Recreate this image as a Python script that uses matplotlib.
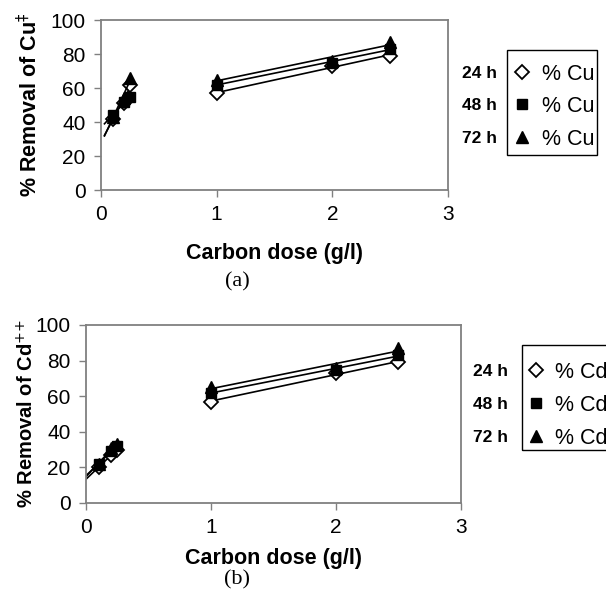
import numpy as np
import matplotlib.pyplot as plt
from matplotlib.patches import Rectangle
from matplotlib.lines import Line2D

# carbon dose (g/l)
dose = [0.1, 0.2, 0.25, 1.0, 2.0, 2.5]
hours = ["24 h", "48 h", "72 h"]

# % removal of Cu
cu_24 = [42, 51, 62, 57, 73, 79]
cu_48 = [44, 52, 55, 62, 75, 83]
cu_72 = [43, 54, 66, 65, 76, 87]

# % removal of Cd
cd_24 = [20, 27, 30, 57, 73, 79]
cd_48 = [22, 29, 32, 62, 75, 83]
cd_72 = [22, 31, 33, 65, 76, 87]

plt.rcParams['font.family'] = ['Liberation Sans', 'DejaVu Sans']

W, H = 606, 603
fig = plt.figure(figsize=(W / 100, H / 100), dpi=100)

styles = [
    dict(marker="D", mfc="white", mec="black", ms=7.5, mew=1.3),
    dict(marker="s", mfc="black", mec="black", ms=7.5),
    dict(marker="^", mfc="black", mec="black", ms=8.5),
]


def fx(px):
    return px / W


def fy(py):
    return 1 - py / H


def legend_box(x0, y0, x1, y1, rows, mark_x, text_x, hour_x, metal):
    # Excel-style legend drawn in figure pixels
    fig.patches.append(Rectangle((fx(x0), fy(y1)), fx(x1) - fx(x0), fy(y0) - fy(y1),
                                 transform=fig.transFigure, fill=False,
                                 edgecolor="black", lw=1.0))
    for r, st, lab in zip(rows, styles, hours):
        fig.lines.append(Line2D([fx(mark_x)], [fy(r)], transform=fig.transFigure,
                                ls="none", **st))
        fig.text(fx(text_x), fy(r), "% " + metal, ha="left", va="center_baseline",
                 fontsize=15.5)
        fig.text(fx(hour_x), fy(r), lab, ha="right", va="center_baseline",
                 fontsize=12.5, fontweight="bold")


def panel(rect, series, metal, sup, low_start, ylab_x, xlab_y, ylab_size):
    ax = fig.add_axes(rect)
    x = np.array(dose)
    for ys, st in zip(series, styles):
        y = np.array(ys)
        # trend lines, fitted separately for low and high doses
        lo = x < 0.5
        k, b = np.polyfit(x[lo], y[lo], 1)
        xl = np.array([low_start, 0.25])
        ax.plot(xl, k * xl + b, color="black", lw=1.2)
        hi = ~lo
        k, b = np.polyfit(x[hi], y[hi], 1)
        xh = np.array([1.0, 2.5])
        ax.plot(xh, k * xh + b, color="black", lw=1.2)
        ax.plot(x, y, ls="none", **st)
    ax.set_xlim(0, 3)
    ax.set_ylim(0, 100)
    ax.set_xticks([0, 1, 2, 3])
    ax.set_yticks(range(0, 101, 20))
    for s in ax.spines.values():
        s.set_color("#808080")
        s.set_linewidth(1.3)
    ax.tick_params(colors="#808080", labelcolor="black", labelsize=15,
                   length=5, width=1.0, direction="out", pad=6)
    ax.set_xlabel("Carbon dose (g/l)", fontsize=15.5, fontweight="bold")
    ax.set_ylabel("% Removal of " + metal + "$^{" + sup + "}$", fontsize=ylab_size,
                  fontweight="bold")
    ax.yaxis.set_label_coords(ylab_x, 0.5)
    ax.xaxis.set_label_coords(0.5, xlab_y)
    return ax


panel([fx(101), fy(190), 347 / W, 170 / H], [cu_24, cu_48, cu_72],
      "Cu", "\u2021", 0.03, (42 - 101) / 347, (190 - 243) / 170, 15.5)
panel([fx(86), fy(503), 375 / W, 178 / H], [cd_24, cd_48, cd_72],
      "Cd", "{+}{+}", 0.0, (37 - 86) / 375, (503 - 548) / 178, 14.5)

legend_box(507, 50, 597, 155, [72, 104, 137], 522, 542, 497, "Cu")
legend_box(522, 345, 612, 450, [370, 403, 436], 536, 555, 508, "Cd")

fig.text(fx(237), fy(282), "(a)", ha="center", va="center", fontsize=16,
         family="Liberation Serif")
fig.text(fx(237), fy(580), "(b)", ha="center", va="center", fontsize=16,
         family="Liberation Serif")

fig.savefig("out.png", dpi=100)
